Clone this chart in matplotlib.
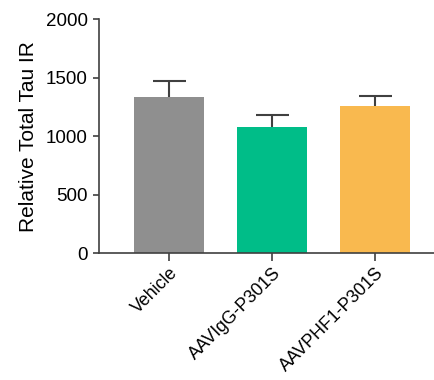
import matplotlib
matplotlib.use('Agg')
import matplotlib.pyplot as plt

plt.rcParams['font.family'] = ['Liberation Sans', 'DejaVu Sans']

groups = ['Vehicle', 'AAVIgG-P301S', 'AAVPHF1-P301S']
means = [1335, 1079, 1258]
errors = [139, 100, 88]
colors = ['#8f8f8f', '#00bd88', '#f9b94f']

fig = plt.figure(figsize=(4.35, 3.8), dpi=100)
ax = fig.add_axes([0.2276, 0.333, 0.7724, 0.617])

x = list(range(len(groups)))
ax.bar(x, means, width=0.68, color=colors, zorder=2)

# upper-only error bars (stem + cap)
tops = [m + e for m, e in zip(means, errors)]
ax.vlines(x, means, tops, color='#404040', linewidth=1.5, zorder=1)
ax.hlines(tops, [i - 0.16 for i in x], [i + 0.16 for i in x],
          color='#404040', linewidth=1.5, zorder=1)

ax.set_xlim(-0.68, 2.58)
ax.set_ylim(0, 2000)
ax.set_yticks([0, 500, 1000, 1500, 2000])
ax.set_xticks(x)
ax.set_xticklabels(groups, rotation=45, ha='right', rotation_mode='anchor',
                   fontsize=12.8)
ax.set_ylabel('Relative Total Tau IR', fontsize=15, labelpad=6)

for side in ['top', 'right']:
    ax.spines[side].set_visible(False)
for side in ['left', 'bottom']:
    ax.spines[side].set_color('#404040')
    ax.spines[side].set_linewidth(1.2)
ax.tick_params(axis='both', colors='#404040', labelcolor='black', width=1.2)
ax.tick_params(axis='y', length=4, pad=4, labelsize=13.5)
ax.tick_params(axis='x', length=6, pad=2)

fig.savefig('out.png', dpi=100)
